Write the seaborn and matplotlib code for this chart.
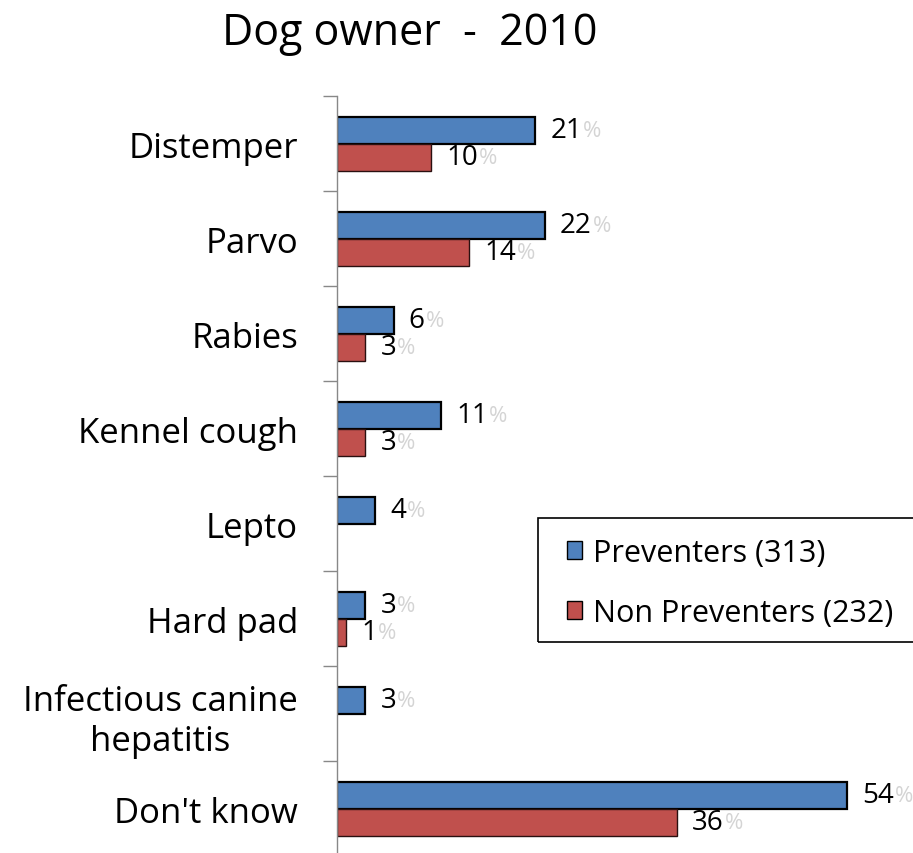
import numpy as np
import pandas as pd
import matplotlib
matplotlib.use("Agg")
import matplotlib.pyplot as plt
import seaborn as sns
from matplotlib.patches import Patch, Rectangle

categories = ["Distemper", "Parvo", "Rabies", "Kennel cough", "Lepto",
              "Hard pad", "Infectious canine\nhepatitis", "Don't know"]
preventers = [21, 22, 6, 11, 4, 3, 3, 54]
non_preventers = [10, 14, 3, 3, np.nan, 1, np.nan, 36]
series_names = ["Preventers (313)", "Non Preventers (232)"]
colors = ["#4F81BD", "#C0504D"]

df = pd.DataFrame({
    "Category": categories * 2,
    "Value": preventers + non_preventers,
    "Group": [series_names[0]] * len(categories) + [series_names[1]] * len(categories),
})

sns.set_style("white")
plt.rcParams["font.family"] = ["Open Sans", "DejaVu Sans"]
plt.rcParams["text.color"] = "black"
plt.rcParams["ytick.labelcolor"] = "black"

fig = plt.figure(figsize=(9.13, 8.54), dpi=100)
ax = fig.add_axes([0.369, -0.004, 0.631, 0.89])

sns.barplot(data=df, y="Category", x="Value", hue="Group", order=categories,
            hue_order=series_names, palette=colors, orient="h", width=0.57,
            saturation=1, legend=False, ax=ax)

ax.set_xlim(0, 61)
ax.set_ylim(len(categories) - 0.5, -0.5)
ax.set_xlabel("")
ax.set_ylabel("")
ax.set_xticks([])

for sp in ["top", "right", "bottom"]:
    ax.spines[sp].set_visible(False)
ax.spines["left"].set_color("#888888")
ax.spines["left"].set_linewidth(1)

ax.set_yticks(np.arange(-0.5, len(categories)), minor=True)
ax.tick_params(axis="y", which="minor", length=10, color="#888888", width=1, left=True)
ax.tick_params(axis="y", which="major", length=0, pad=28, labelsize=25, labelcolor="black")
for lbl in ax.get_yticklabels():
    lbl.set_multialignment("center")
    lbl.set_linespacing(1.25)

# bar edges and value labels
for patch in ax.patches:
    w = patch.get_width()
    if np.isnan(w) or patch.get_height() == 0:
        continue
    if patch.get_facecolor()[2] > 0.5:
        patch.set_edgecolor("black")
        patch.set_linewidth(1.6)
    else:
        patch.set_edgecolor("#2a1010")
        patch.set_linewidth(1.0)
    y = patch.get_y() + patch.get_height() / 2
    t = ax.annotate(f"{int(w)}", xy=(w, y), xytext=(11, 0), textcoords="offset points",
                    ha="left", va="center", fontsize=20, color="black")
    ax.annotate("%", xy=(1, 0.5), xycoords=t, xytext=(0.5, 0), textcoords="offset points",
                ha="left", va="center", fontsize=16, color="#d4d4d4")

# legend
handles = [Patch(facecolor=colors[0], edgecolor="black", linewidth=1),
           Patch(facecolor=colors[1], edgecolor="black", linewidth=1)]
leg = fig.legend(handles, series_names, loc="upper left",
                 bbox_to_anchor=(567 / 913, 1 - 539 / 854), fontsize=22,
                 frameon=False, handlelength=0.5, handleheight=0.5,
                 handletextpad=0.35, labelspacing=0.98, borderpad=0, borderaxespad=0)
fig.patches.append(Rectangle((538 / 913, 1 - 643 / 854), 400 / 913, 124 / 854,
                             transform=fig.transFigure, fill=False,
                             edgecolor="black", linewidth=1.2, zorder=0))

fig.text(0.449, 0.961, "Dog owner  -  2010", ha="center", va="center", fontsize=31)

fig.savefig("out.png", dpi=100)
